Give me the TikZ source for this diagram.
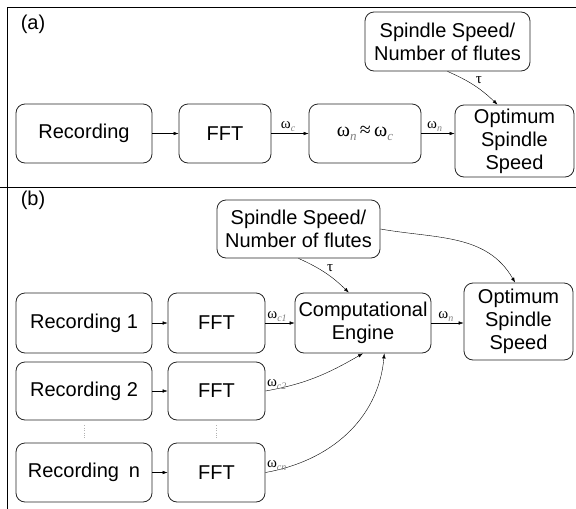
\documentclass[tikz,border=0pt]{standalone}
\usepackage{fontspec}
\setmainfont{Liberation Sans}
\newfontfamily\grk{Liberation Serif}
\usetikzlibrary{arrows.meta}
\newcommand{\om}[2]{ω\raisebox{-0.45ex}{\fontsize{#2}{#2}\selectfont\itshape\color{gray}#1}}

\begin{document}
\begin{tikzpicture}[x=1pt, y=1pt,
    box/.style={draw=black!85, line width=0.8pt, rounded corners=9pt, align=center, inner sep=2pt, font=\fontsize{20}{23}\selectfont},
    lbl/.style={font=\grk\fontsize{15}{15}\selectfont, inner sep=1.5pt},
    >={Latex[length=5pt,width=3.5pt]}]
    \useasboundingbox (0,0) rectangle (576,-509);
    % frame
    \draw[line width=0.8pt] (7,-509) -- (7,-7) -- (576,-7);
    \draw[line width=0.8pt] (0,-187) -- (576,-187);

    % (a)
    \node[font=\fontsize{20}{23}\selectfont] (la) at (33,-24) {(a)};
    \node[box, minimum width=136, minimum height=59] (rec) at (84,-133.5) {Recording};
    \node[box, minimum width=92, minimum height=59] (fft) at (225,-133.5) {FFT};
    \node[box, minimum width=112, minimum height=59] (app) at (365,-133.5) {\grk\om{n}{13}\,≈\,\om{c}{13}};
    \node[box, minimum width=119, minimum height=72] (opt) at (514.5,-141) {Optimum\\Spindle\\Speed};
    \node[box, minimum width=165, minimum height=59] (spd) at (447.5,-41.5) {Spindle Speed/\\Number of flutes};
    \draw[->] (rec) -- (fft);
    \draw[->] (fft) -- node[lbl, above, pos=0.45] {\om{c}{10}} (app);
    \draw[->] (app.east) -- node[lbl, above, pos=0.4] {\om{n}{10}} (app.east -| opt.west);
    \draw[->] (spd.south) to[bend left=10] node[lbl, above right] {τ} (opt.115);

    % (b)
    \node[font=\fontsize{20}{23}\selectfont] (lb) at (33,-200) {(b)};
    \node[box, minimum width=163, minimum height=58] (spd2) at (298.5,-229) {Spindle Speed/\\Number of flutes};
    \node[box, minimum width=136, minimum height=60] (rec1) at (84,-323) {Recording 1};
    \node[box, minimum width=97, minimum height=60] (fft1) at (216.5,-323) {FFT};
    \node[box, minimum width=136, minimum height=60] (ce) at (363,-323) {Computational\\Engine};
    \node[box, minimum width=109, minimum height=77] (opt2) at (518.5,-321.5) {Optimum\\Spindle\\Speed};
    \node[box, minimum width=136, minimum height=58] (rec2) at (84,-391) {Recording 2};
    \node[box, minimum width=97, minimum height=58] (fft2) at (216.5,-391) {FFT};
    \node[box, minimum width=136, minimum height=59] (recn) at (84,-472.5) {Recording\enspace n};
    \node[box, minimum width=97, minimum height=59] (fftn) at (216.5,-472.5) {FFT};
    \draw[dotted, black!30, shorten <=5pt, shorten >=3pt] (rec2.south) -- (recn.north);
    \draw[dotted, black!30, shorten <=5pt, shorten >=3pt] (fft2.south) -- (fftn.north);
    \draw[->] (rec1) -- (fft1);
    \draw[->] (rec2) -- (fft2);
    \draw[->] (recn) -- (fftn);
    \draw[->] (fft1) -- node[lbl, above, pos=0.4] {\om{c1}{10}} (ce);
    \draw[->] (ce.east) -- node[lbl, above, pos=0.45] {\om{n}{10}} (ce.east -| opt2.west);
    \draw[->] (spd2.south) to[bend left=10] node[lbl, above right] {τ} (ce.115);
    \draw[->] (spd2.east) to[out=-10, in=120] (opt2.95);
    \draw[->] (fft2.east) to[out=10, in=-150] node[lbl, above right, pos=0] {\om{c2}{10}} (ce.south);
    \draw[->] (fftn.east) to[out=10, in=-95] node[lbl, above right, pos=0] {\om{cn}{10}} (ce.-55);
\end{tikzpicture}
\end{document}
